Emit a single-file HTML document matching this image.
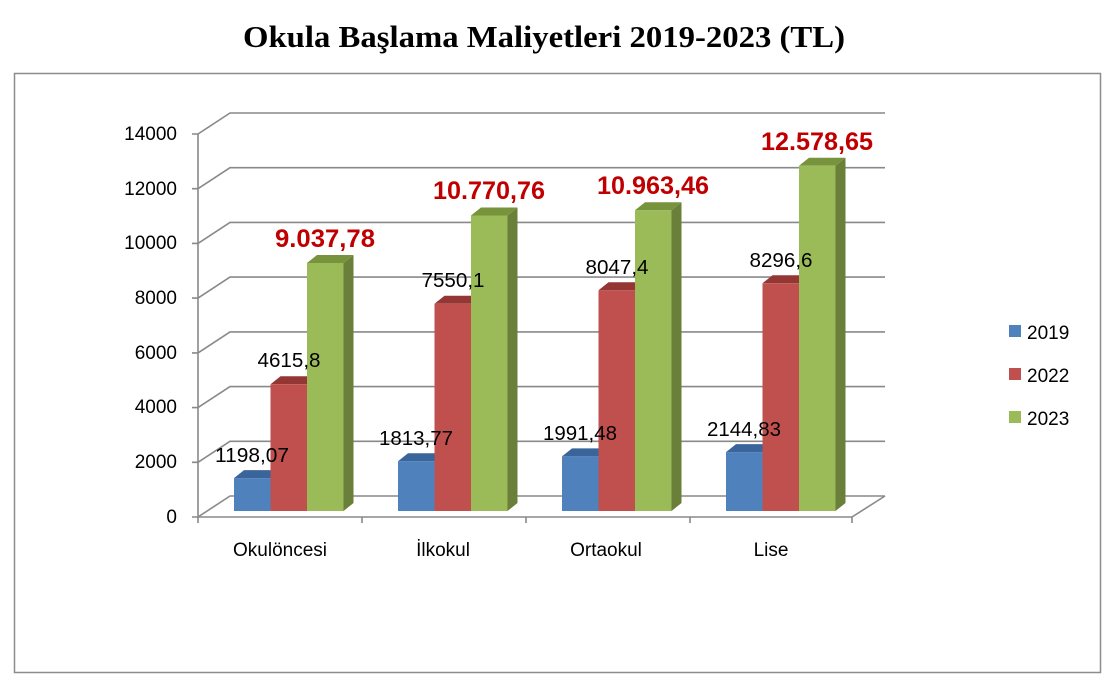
<!DOCTYPE html>
<html><head><meta charset="utf-8"><style>
html,body{margin:0;padding:0;background:#fff;width:1115px;height:681px;overflow:hidden}
svg{display:block}
</style></head><body>
<svg width="1115" height="681" viewBox="0 0 1115 681" xmlns="http://www.w3.org/2000/svg">
<text x="544" y="47" text-anchor="middle" font-family="Liberation Serif, serif" font-weight="bold" font-size="31" fill="#000" textLength="602" lengthAdjust="spacingAndGlyphs">Okula Başlama Maliyetleri 2019-2023 (TL)</text>
<rect x="14.5" y="73.5" width="1086" height="599" fill="none" stroke="#8c8c8c" stroke-width="1.5"/>
<g stroke="#898989" stroke-width="1.6" fill="none">
<path d="M198 517L230 496H885M198 462.3L230 441.3H885M198 407.6L230 386.6H885M198 352.9L230 331.9H885M198 298.1L230 277.1H885M198 243.4L230 222.4H885M198 188.7L230 167.7H885M198 134L230 113H885"/>
<path d="M198 134V517H852L885 496"/>
<path d="M192 517H198M192 462.3H198M192 407.6H198M192 352.9H198M192 298.1H198M192 243.4H198M192 188.7H198M192 134H198"/>
<path d="M198 517V523M362 517V523M526 517V523M690 517V523M852 517V523"/>
</g>
<g font-family="Liberation Sans, sans-serif" font-size="19" fill="#000" text-anchor="end">
<text x="177" y="523">0</text><text x="177" y="468">2000</text><text x="177" y="413">4000</text><text x="177" y="359">6000</text><text x="177" y="304">8000</text><text x="177" y="249">10000</text><text x="177" y="195">12000</text><text x="177" y="140">14000</text>
</g>
<g font-family="Liberation Sans, sans-serif" font-size="19" fill="#000" text-anchor="middle">
<text x="280" y="556">Okulöncesi</text><text x="443" y="556">İlkokul</text><text x="606" y="556">Ortaokul</text><text x="771" y="556">Lise</text>
</g>
<g>
<polygon points="270.5,511 280.5,503 280.5,470.1 270.5,478.1" fill="#385d8a"/>
<polygon points="234,478.1 244,470.1 280.5,470.1 270.5,478.1" fill="#3a659b"/>
<rect x="234" y="478.1" width="36.5" height="32.9" fill="#4f81bd"/>
<polygon points="307,511 317,503 317,376.3 307,384.3" fill="#8c3836"/>
<polygon points="270.5,384.3 280.5,376.3 317,376.3 307,384.3" fill="#943634"/>
<rect x="270.5" y="384.3" width="36.5" height="126.7" fill="#c0504d"/>
<polygon points="343.5,511 353.5,503 353.5,255 343.5,263" fill="#6a7f39"/>
<polygon points="307,263 317,255 353.5,255 343.5,263" fill="#77933c"/>
<rect x="307" y="263" width="36.5" height="248" fill="#9bbb59"/>
<polygon points="434.5,511 444.5,503 444.5,453.2 434.5,461.2" fill="#385d8a"/>
<polygon points="398,461.2 408,453.2 444.5,453.2 434.5,461.2" fill="#3a659b"/>
<rect x="398" y="461.2" width="36.5" height="49.8" fill="#4f81bd"/>
<polygon points="471,511 481,503 481,295.8 471,303.8" fill="#8c3836"/>
<polygon points="434.5,303.8 444.5,295.8 481,295.8 471,303.8" fill="#943634"/>
<rect x="434.5" y="303.8" width="36.5" height="207.2" fill="#c0504d"/>
<polygon points="507.5,511 517.5,503 517.5,207.5 507.5,215.5" fill="#6a7f39"/>
<polygon points="471,215.5 481,207.5 517.5,207.5 507.5,215.5" fill="#77933c"/>
<rect x="471" y="215.5" width="36.5" height="295.5" fill="#9bbb59"/>
<polygon points="598.5,511 608.5,503 608.5,448.4 598.5,456.4" fill="#385d8a"/>
<polygon points="562,456.4 572,448.4 608.5,448.4 598.5,456.4" fill="#3a659b"/>
<rect x="562" y="456.4" width="36.5" height="54.6" fill="#4f81bd"/>
<polygon points="635,511 645,503 645,282.2 635,290.2" fill="#8c3836"/>
<polygon points="598.5,290.2 608.5,282.2 645,282.2 635,290.2" fill="#943634"/>
<rect x="598.5" y="290.2" width="36.5" height="220.8" fill="#c0504d"/>
<polygon points="671.5,511 681.5,503 681.5,202.2 671.5,210.2" fill="#6a7f39"/>
<polygon points="635,210.2 645,202.2 681.5,202.2 671.5,210.2" fill="#77933c"/>
<rect x="635" y="210.2" width="36.5" height="300.8" fill="#9bbb59"/>
<polygon points="762.5,511 772.5,503 772.5,444.1 762.5,452.1" fill="#385d8a"/>
<polygon points="726,452.1 736,444.1 772.5,444.1 762.5,452.1" fill="#3a659b"/>
<rect x="726" y="452.1" width="36.5" height="58.9" fill="#4f81bd"/>
<polygon points="799,511 809,503 809,275.3 799,283.3" fill="#8c3836"/>
<polygon points="762.5,283.3 772.5,275.3 809,275.3 799,283.3" fill="#943634"/>
<rect x="762.5" y="283.3" width="36.5" height="227.7" fill="#c0504d"/>
<polygon points="835.5,511 845.5,503 845.5,157.8 835.5,165.8" fill="#6a7f39"/>
<polygon points="799,165.8 809,157.8 845.5,157.8 835.5,165.8" fill="#77933c"/>
<rect x="799" y="165.8" width="36.5" height="345.2" fill="#9bbb59"/>
</g>
<g font-family="Liberation Sans, sans-serif" font-size="20" fill="#000" text-anchor="middle">
<text x="252" y="462" textLength="74" lengthAdjust="spacingAndGlyphs">1198,07</text>
<text x="289" y="367" textLength="63" lengthAdjust="spacingAndGlyphs">4615,8</text>
<text x="416" y="445" textLength="74" lengthAdjust="spacingAndGlyphs">1813,77</text>
<text x="453" y="287" textLength="63" lengthAdjust="spacingAndGlyphs">7550,1</text>
<text x="580" y="440" textLength="74" lengthAdjust="spacingAndGlyphs">1991,48</text>
<text x="617" y="274" textLength="63" lengthAdjust="spacingAndGlyphs">8047,4</text>
<text x="744" y="436" textLength="74" lengthAdjust="spacingAndGlyphs">2144,83</text>
<text x="781" y="267" textLength="63" lengthAdjust="spacingAndGlyphs">8296,6</text>
</g>
<g font-family="Liberation Sans, sans-serif" font-size="25" font-weight="bold" fill="#c00000" text-anchor="middle">
<text x="325" y="247" textLength="100" lengthAdjust="spacingAndGlyphs">9.037,78</text>
<text x="489" y="199" textLength="112" lengthAdjust="spacingAndGlyphs">10.770,76</text>
<text x="653" y="194" textLength="112" lengthAdjust="spacingAndGlyphs">10.963,46</text>
<text x="817" y="150" textLength="112" lengthAdjust="spacingAndGlyphs">12.578,65</text>
</g>
<rect x="1009" y="325" width="12" height="12" fill="#4f81bd"/>
<rect x="1009" y="368" width="12" height="12" fill="#c0504d"/>
<rect x="1009" y="411" width="12" height="12" fill="#9bbb59"/>
<g font-family="Liberation Sans, sans-serif" font-size="19" fill="#000">
<text x="1027" y="339">2019</text><text x="1027" y="382">2022</text><text x="1027" y="425">2023</text>
</g>
</svg>
</body></html>
